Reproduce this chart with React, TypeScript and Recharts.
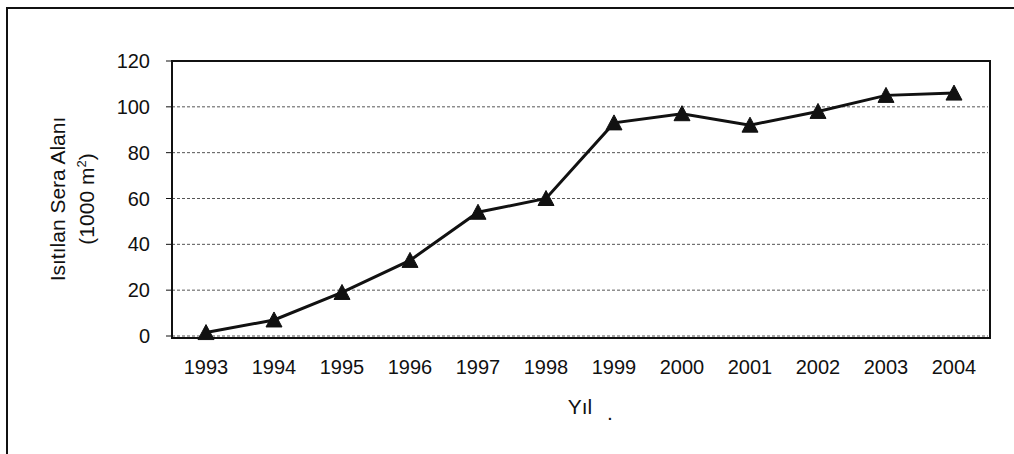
import React from "react";
import { LineChart, Line, XAxis, YAxis, CartesianGrid } from "recharts";

const years = ["1993", "1994", "1995", "1996", "1997", "1998", "1999", "2000", "2001", "2002", "2003", "2004"];
const areas = [1.5, 7, 19, 33, 54, 60, 93, 97, 92, 98, 105, 106];
const yTicks = [0, 20, 40, 60, 80, 100, 120];

const data = years.map((y, i) => ({ year: y, value: areas[i] }));

const FONT = "'Liberation Sans', Arial, sans-serif";

const Triangle = (props: any) => {
  const { cx, cy, index } = props;
  if (cx == null || cy == null) return null;
  const d = `M${cx},${cy - 8} L${cx + 8},${cy + 7} L${cx - 8},${cy + 7} Z`;
  return <path key={`tri-${index}`} d={d} fill="#111" stroke="#111" strokeWidth={1} />;
};

export default function App() {
  return (
    <div style={{ position: "absolute", left: 0, top: 0, width: 1014, height: 454, background: "#fff", fontFamily: FONT, overflow: "hidden" }}>
      <LineChart width={1014} height={454} data={data} margin={{ top: 61, right: 26, bottom: 88, left: 112 }}>
        <CartesianGrid horizontal vertical={false} stroke="#555" strokeDasharray="3 2" strokeWidth={1} />
        <XAxis
          dataKey="year"
          padding={{ left: 34, right: 34 }}
          axisLine={false}
          tickLine={{ stroke: "none" }}
          tickSize={6}
          tickMargin={18}
          height={30}
          tick={{ fill: "#111", fontSize: 20, fontFamily: FONT }}
          interval={0}
        />
        <YAxis
          domain={[0, 120]}
          ticks={yTicks}
          width={60}
          axisLine={false}
          tickLine={{ stroke: "#111", strokeWidth: 1 }}
          tickSize={6}
          tickMargin={16}
          tick={{ fill: "#111", fontSize: 20, fontFamily: FONT }}
          interval={0}
        />
        <Line dataKey="value" stroke="#111" strokeWidth={3} dot={<Triangle />} activeDot={false} isAnimationActive={false} />
      </LineChart>
      <div style={{ position: "absolute", left: 6, top: 7, width: 1008, height: 447, borderTop: "2px solid #111", borderLeft: "2px solid #111", pointerEvents: "none" }} />
      <div style={{ position: "absolute", left: 171, top: 60, width: 816, height: 275, border: "2px solid #111", pointerEvents: "none" }} />
      <div style={{ position: "absolute", left: 57, top: 199, transform: "translate(-50%, -50%) rotate(-90deg)", whiteSpace: "nowrap", fontSize: 21, color: "#111", lineHeight: 1 }}>
        Isıtılan Sera Alanı
      </div>
      <div style={{ position: "absolute", left: 86, top: 199, transform: "translate(-50%, -50%) rotate(-90deg)", whiteSpace: "nowrap", fontSize: 21, color: "#111", lineHeight: 1 }}>
        (1000 m<sup style={{ fontSize: 13 }}>2</sup>)
      </div>
      <div style={{ position: "absolute", left: 580, top: 396, transform: "translateX(-50%)", whiteSpace: "nowrap", fontSize: 21, color: "#111", lineHeight: 1 }}>
        Yıl
      </div>
      <div style={{ position: "absolute", left: 607, top: 402, fontSize: 21, color: "#111", lineHeight: 1 }}>.</div>
    </div>
  );
}
